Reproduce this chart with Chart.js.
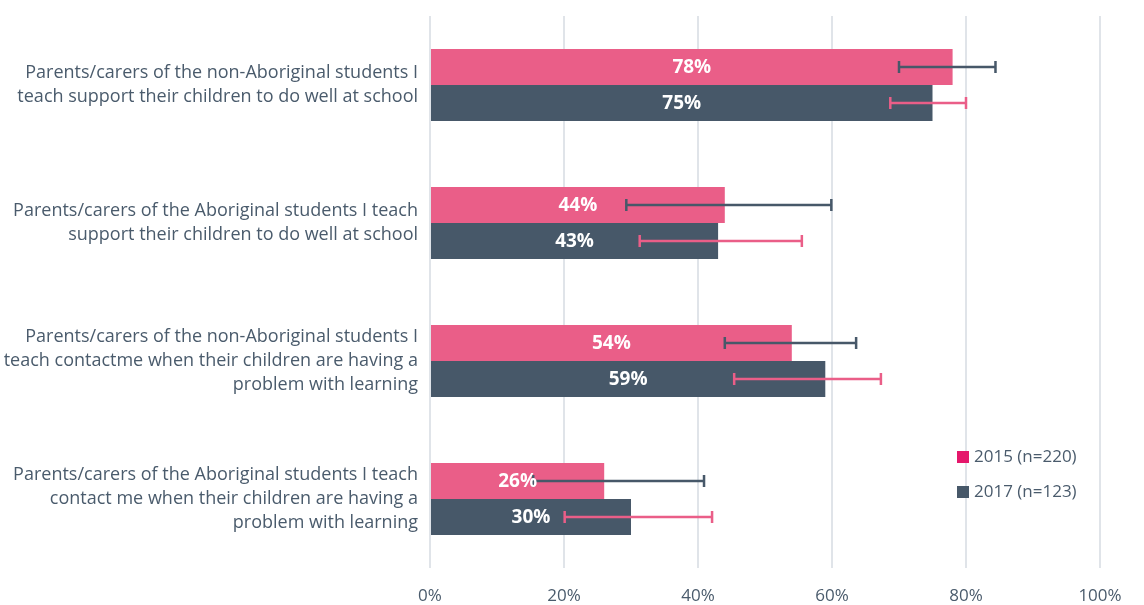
<!DOCTYPE html>
<html>
<head>
<meta charset="utf-8">
<script src="https://cdn.jsdelivr.net/npm/chart.js@4"></script>
<style>
html,body{margin:0;padding:0;background:#fff;}
#wrap{width:1144px;height:605px;position:relative;}
</style>
</head>
<body>
<div id="wrap"><canvas id="chart"></canvas></div>
<script>
const categories = [
["Parents/carers of the non-Aboriginal students I","teach support their children to do well at school"],
["Parents/carers of the Aboriginal students I teach","support their children to do well at school"],
["Parents/carers of the non-Aboriginal students I","teach contactme when their children are having a","problem with learning"],
["Parents/carers of the Aboriginal students I teach","contact me when their children are having a","problem with learning"]
];
const seriesNames = ["2015 (n=220)","2017 (n=123)"];
const values2015 = [78,44,54,26];
const values2017 = [75,43,59,30];
// error bar ranges
const err2015Low = [70,29.3,44,15.4];
const err2015High = [84.4,59.9,63.6,40.9];
const err2017Low = [68.7,31.3,45.4,20.1];
const err2017High = [80,55.5,67.3,42.1];
const xTicks = [0,20,40,60,80,100];

const pink = "#ea5e88";
const slate = "#475869";
const textCol = "#4a5b6c";

/* -------- ERROR BARS + VALUE LABELS -------- */

const errorBars = {
id:"errorBars",
afterDatasetsDraw(chart){
const c = chart.ctx;
const xs = chart.scales.x;
const sets = [[err2015Low,err2015High,slate],[err2017Low,err2017High,pink]];
sets.forEach((s,di)=>{
const meta = chart.getDatasetMeta(di);
meta.data.forEach((bar,i)=>{
const x1 = xs.getPixelForValue(s[0][i]);
const x2 = xs.getPixelForValue(s[1][i]);
const y = bar.y;
c.save();
c.strokeStyle = s[2];
c.lineWidth = 2.5;
c.beginPath();
c.moveTo(x1,y);c.lineTo(x2,y);
c.moveTo(x1,y-6);c.lineTo(x1,y+6);
c.moveTo(x2,y-6);c.lineTo(x2,y+6);
c.stroke();
c.restore();
});
});
},
afterDraw(chart){
const c = chart.ctx;
c.save();
c.fillStyle = "#fff";
c.font = "bold 19px 'Open Sans'";
c.textAlign = "center";
c.textBaseline = "middle";
chart.data.datasets.forEach((ds,di)=>{
chart.getDatasetMeta(di).data.forEach((bar,i)=>{
c.fillText(ds.data[i]+"%",(bar.x+bar.base)/2,bar.y+1);
});
});
c.restore();

/* legend inside plot */
const area = chart.chartArea;
const lx = area.left + 527;
const colors = ["#e5176b",slate];
c.save();
c.font = "17px 'Open Sans'";
c.textBaseline = "middle";
seriesNames.forEach((n,i)=>{
const ly = area.top + 441 + i*35;
c.fillStyle = colors[i];
c.fillRect(lx,ly-6,12,12);
c.fillStyle = textCol;
c.fillText(n,lx+17,ly);
});
c.restore();
}
};

new Chart(document.getElementById("chart"),{
type:"bar",
data:{
labels:categories,
datasets:[
{label:seriesNames[0],data:values2015,backgroundColor:pink},
{label:seriesNames[1],data:values2017,backgroundColor:slate}
]
},
options:{
indexAxis:"y",
responsive:true,
maintainAspectRatio:false,
animation:false,
categoryPercentage:0.52,
barPercentage:1,
layout:{padding:{top:16,right:44,left:0,bottom:0}},
plugins:{legend:{display:false},tooltip:{enabled:false}},
scales:{
x:{
min:0,max:100,
afterBuildTicks(s){s.ticks = xTicks.map(v=>({value:v}));},
afterFit(s){s.height = 37;},
grid:{color:"#e0e4e9",lineWidth:2,drawTicks:false},
border:{display:false},
ticks:{padding:18,color:textCol,font:{family:"Open Sans",size:17},callback:v=>v+"%"}
},
y:{
afterFit(s){s.width = 430;s.paddingTop = 0;s.paddingBottom = 0;},
grid:{display:false,drawTicks:false},
border:{display:false},
ticks:{padding:12,color:textCol,font:{family:"Open Sans",size:18,lineHeight:1.33}}
}
}
},
plugins:[errorBars]
});
</script>
</body>
</html>
